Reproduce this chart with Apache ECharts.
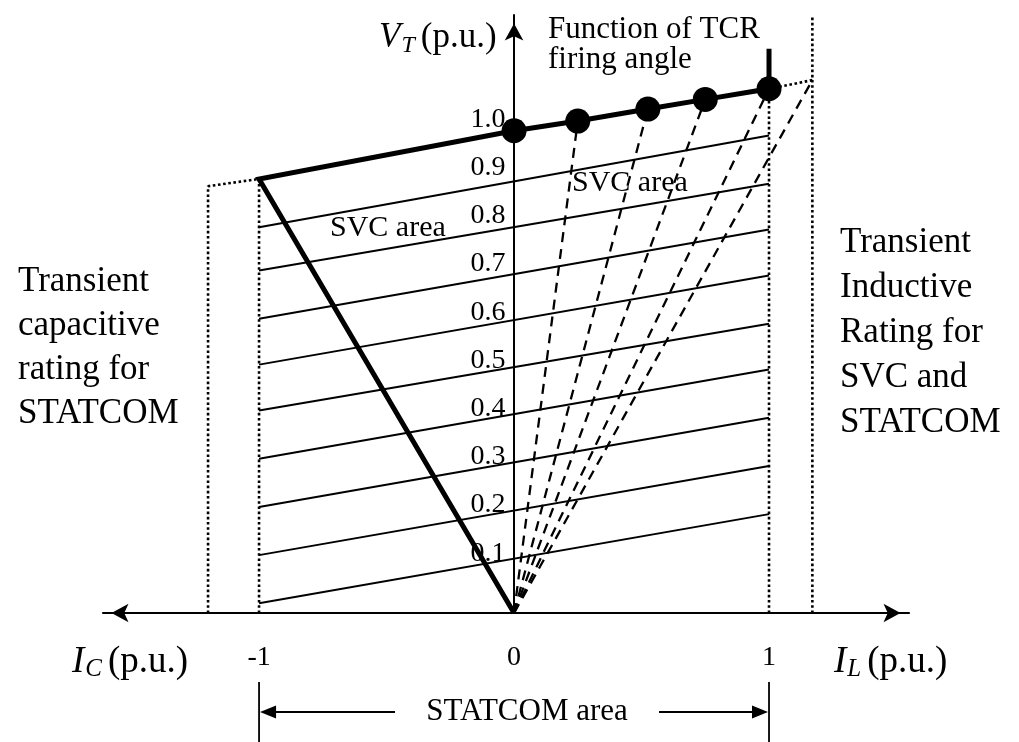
<!DOCTYPE html>
<html>
<head>
<meta charset="utf-8">
<title>SVC and STATCOM V-I characteristic</title>
<script src="https://cdn.jsdelivr.net/npm/echarts@6/dist/echarts.min.js"></script>
<style>
  html, body { margin: 0; padding: 0; background: #ffffff; }
  #chart { width: 1019px; height: 742px; }
</style>
</head>
<body>
<div id="chart"></div>
<script>
// Axis ticks (currents in p.u., terminal voltage in p.u.)
const currentTicks = [-1, 0, 1];
const voltageTicks = [0.1, 0.2, 0.3, 0.4, 0.5, 0.6, 0.7, 0.8, 0.9, 1.0];

// Constant-voltage load lines (0.9 ... 0.1): voltage at I = -1 and at I = +1
const loadLineAtCap = [0.80, 0.71, 0.61, 0.515, 0.42, 0.32, 0.22, 0.12, 0.02];
const loadLineAtInd = [0.99, 0.89, 0.795, 0.70, 0.60, 0.505, 0.405, 0.305, 0.205];

// Operating points on the control characteristic (TCR firing angle)
const firingCurrent = [0, 0.25, 0.525, 0.75, 1.0];
const firingVoltage = [1.0, 1.02, 1.045, 1.065, 1.087];

// Capacitive limit corner and inductive limit top
const capacitiveCorner = [-1, 0.90];
const inductiveLimitTop = [1, 1.17];

// Transient rating boundaries
const transientCapacitive = [[-1.2, 0], [-1.2, 0.885], [-1, 0.90]];
const capacitiveLimit = [[-1, 0], [-1, 0.90]];
const inductiveLimit = [[1, 0], [1, 1.087]];
const transientInductive = [[1, 1.087], [1.17, 1.105]];
const transientInductiveEdge = [[1.17, 0], [1.17, 1.235]];

// Axis extents
const currentMin = -1.612;
const currentMax = 1.549;
const voltageMax = 1.24;

const SERIF = '"Liberation Serif", "DejaVu Serif", serif';
const INK = '#000000';

const chart = echarts.init(document.getElementById('chart'), null, { renderer: 'canvas' });

const series = [];

// thin load lines
loadLineAtCap.forEach((v, i) => {
  series.push({
    type: 'line', z: 2, silent: true, symbol: 'none',
    lineStyle: { color: INK, width: 2 },
    data: [[-1, v], [1, loadLineAtInd[i]]]
  });
});

// dashed rays from the origin to each firing-angle point and the transient corner
const rayEnds = firingCurrent.slice(1).map((c, i) => [c, firingVoltage[i + 1]])
  .concat([transientInductive[1]]);
rayEnds.forEach(p => {
  series.push({
    type: 'line', z: 3, silent: true, symbol: 'none',
    lineStyle: { color: INK, width: 2.3, type: [10, 7] },
    data: [[0, 0], p]
  });
});

// dotted rating boundaries
[transientCapacitive, capacitiveLimit, inductiveLimit, transientInductive, transientInductiveEdge].forEach(pts => {
  series.push({
    type: 'line', z: 3, silent: true, symbol: 'none',
    lineStyle: { color: INK, width: 2.6, type: [2.6, 2.6] },
    data: pts
  });
});

// bold control characteristic
const characteristic = [[0, 0], capacitiveCorner]
  .concat(firingCurrent.map((c, i) => [c, firingVoltage[i]]))
  .concat([inductiveLimitTop]);
series.push({
  type: 'line', z: 5, silent: true, symbol: 'none',
  lineStyle: { color: INK, width: 5, join: 'miter' },
  data: characteristic
});

// firing-angle dots
series.push({
  type: 'scatter', z: 6, silent: true, symbol: 'circle', symbolSize: 25,
  itemStyle: { color: INK, opacity: 1 },
  data: firingCurrent.map((c, i) => [c, firingVoltage[i]])
});

// voltage tick labels sitting on the vertical axis
series.push({
  type: 'scatter', z: 4, silent: true, symbol: 'circle', symbolSize: 1,
  itemStyle: { color: 'rgba(0,0,0,0)', opacity: 1 },
  label: {
    show: true, position: [-8, 3], align: 'right', verticalAlign: 'bottom',
    fontFamily: SERIF, fontSize: 28, color: INK, opacity: 1,
    formatter: p => p.value[1].toFixed(1)
  },
  data: voltageTicks.map(v => [0, v])
});

// STATCOM area dimension line below the current axis
series.push({
  type: 'custom', z: 4, silent: true, clip: false,
  data: [[-1, 1]],
  renderItem: function (params, api) {
    const a = api.coord([api.value(0), 0]);
    const b = api.coord([api.value(1), 0]);
    const y = a[1] + 99;
    const mid = (a[0] + b[0]) / 2 + 13;
    const gap = 132;
    const st = { stroke: INK, lineWidth: 1.8 };
    const head = 16, half = 6.5;
    return {
      type: 'group',
      children: [
        { type: 'line', shape: { x1: a[0], y1: y - 30, x2: a[0], y2: y + 32 }, style: st },
        { type: 'line', shape: { x1: b[0], y1: y - 30, x2: b[0], y2: y + 32 }, style: st },
        { type: 'line', shape: { x1: a[0] + head, y1: y, x2: mid - gap, y2: y }, style: st },
        { type: 'line', shape: { x1: mid + gap, y1: y, x2: b[0] - head, y2: y }, style: st },
        { type: 'polygon', shape: { points: [[a[0] + 1, y], [a[0] + head + 1, y - half], [a[0] + head + 1, y + half]] }, style: { fill: INK } },
        { type: 'polygon', shape: { points: [[b[0] - 1, y], [b[0] - head - 1, y - half], [b[0] - head - 1, y + half]] }, style: { fill: INK } },
        { type: 'text', style: { x: mid, y: y, text: 'STATCOM area', fill: INK, font: '31px ' + SERIF, textAlign: 'center', textVerticalAlign: 'middle' } }
      ]
    };
  }
});

function axisRich(size) {
  return {
    it: { fontFamily: SERIF, fontStyle: 'italic', fontSize: size, lineHeight: 40, verticalAlign: 'middle', color: INK },
    sub: { fontFamily: SERIF, fontStyle: 'italic', fontSize: Math.round(size * 0.68), lineHeight: 16, verticalAlign: 'bottom', color: INK, padding: [0, 6, 0, 1] },
    rm: { fontFamily: SERIF, fontSize: size, lineHeight: 40, verticalAlign: 'middle', color: INK }
  };
}

function label(x, y, text, size, extra) {
  return {
    type: 'text', silent: true,
    style: Object.assign({
      x: x, y: y, text: text, fill: INK,
      font: size + 'px ' + SERIF,
      textAlign: 'left', textVerticalAlign: 'middle'
    }, extra || {})
  };
}

const option = {
  animation: false,
  backgroundColor: '#ffffff',
  grid: { left: 103, right: 110, top: 15, bottom: 129, containLabel: false, outerBoundsMode: 'none' },
  xAxis: {
    type: 'value', min: currentMin, max: currentMax,
    axisLine: { show: true, onZero: true, lineStyle: { color: INK, width: 2.2 },
      symbol: ['arrow', 'arrow'], symbolSize: [14, 17], symbolOffset: [8.5, -8.5] },
    axisTick: { show: false },
    splitLine: { show: false },
    axisLabel: {
      show: true, customValues: currentTicks, margin: 31,
      fontFamily: SERIF, fontSize: 28, color: INK,
      formatter: v => String(v)
    }
  },
  yAxis: {
    type: 'value', min: 0, max: voltageMax,
    axisLine: { show: true, onZero: true, lineStyle: { color: INK, width: 2 },
      symbol: ['none', 'arrow'], symbolSize: [14, 17], symbolOffset: [0, -8.5] },
    axisTick: { show: false },
    splitLine: { show: false },
    axisLabel: { show: false }
  },
  series: series,
  graphic: [
    { type: 'text', silent: true, style: { x: 379, y: 38, text: '{it|V}{sub|T}{rm|(p.u.)}', rich: axisRich(35), textVerticalAlign: 'middle' } },
    { type: 'text', silent: true, style: { x: 72, y: 662, text: '{it|I}{sub|C}{rm|(p.u.)}', rich: axisRich(37), textVerticalAlign: 'middle' } },
    { type: 'text', silent: true, style: { x: 834, y: 662, text: '{it|I}{sub|L}{rm|(p.u.)}', rich: axisRich(37), textVerticalAlign: 'middle' } },
    label(548, 30, 'Function of TCR', 31),
    label(548, 60, 'firing angle', 31),
    label(330, 228, 'SVC area', 30),
    label(572, 183, 'SVC area', 30),
    label(18, 260, 'Transient\ncapacitive\nrating for\nSTATCOM', 35, { lineHeight: 44, textVerticalAlign: 'top' }),
    label(840, 220, 'Transient\nInductive\nRating for\nSVC and\nSTATCOM', 35, { lineHeight: 45, textVerticalAlign: 'top' })
  ]
};

chart.setOption(option);
</script>
</body>
</html>
